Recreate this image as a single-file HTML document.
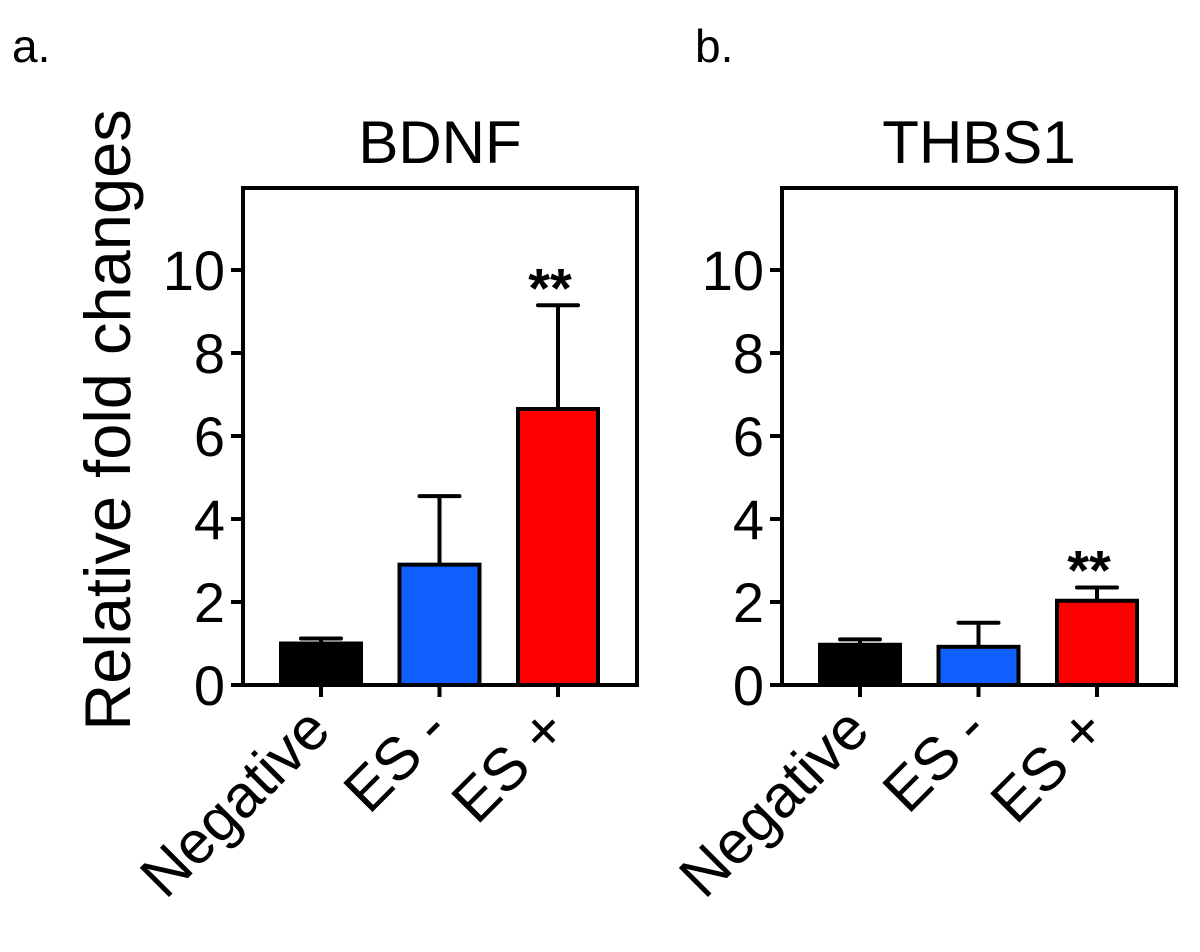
<!DOCTYPE html>
<html><head><meta charset="utf-8"><style>
body{margin:0;background:#fff}
svg text{font-family:"Liberation Sans",Arial,sans-serif;fill:#000}
</style></head><body>
<svg id="chart" width="1200" height="947" xmlns="http://www.w3.org/2000/svg">
<text x="12" y="62" font-size="46">a.</text>
<text x="695" y="62" font-size="46">b.</text>
<text transform="translate(130,420) rotate(-90)" text-anchor="middle" font-size="65">Relative fold changes</text>
<g id="pa"></g>
<g id="pb"></g>
</svg>
<script>
const categories=["Negative","ES -","ES +"];
const colors=["#000000","#0f5fff","#ff0000"];
const yTicks=[0,2,4,6,8,10];
const bdnfValues=[1.0,2.9,6.65];
const bdnfErrors=[1.12,4.55,9.15];
const thbsValues=[0.97,0.92,2.03];
const thbsErrors=[1.1,1.5,2.35];
const titles=["BDNF","THBS1"];
const sigA=[false,false,true];
const sigB=[false,false,true];
const NS="http://www.w3.org/2000/svg";
function mk(tag,attrs,parent){const e=document.createElementNS(NS,tag);for(const k in attrs)e.setAttribute(k,attrs[k]);parent.appendChild(e);return e;}
function panel(g,left,title,vals,errs,sig){
  const right=left+394, top=188, bottom=685;
  const y=v=>bottom-v*41.5;
  const x=i=>left+78+i*118.5;
  const t=mk('text',{x:(left+right)/2,y:163,'text-anchor':'middle','font-size':60},g);t.textContent=title;
  
  
  vals.forEach((v,i)=>{
    const cx=x(i);
    const eb=mk('g',{},g);
    
    
    mk('line',{x1:cx,x2:cx,y1:y(v),y2:y(errs[i]),stroke:'#000','stroke-width':4},eb);
    mk('line',{x1:cx-20,x2:cx+20,y1:y(errs[i]),y2:y(errs[i]),stroke:'#000','stroke-width':4,'stroke-linecap':'round'},eb);
    const r=mk('rect',{x:cx-40,y:y(v),width:80,height:bottom-y(v),fill:colors[i],stroke:'#000','stroke-width':4},g);
    
    
    if(sig[i]){
      const s=mk('text',{x:cx-8,y:y(errs[i])+2,'text-anchor':'middle','font-size':56,'font-weight':'bold'},g);s.textContent='**';
      
      
    }
    mk('line',{x1:cx,x2:cx,y1:bottom,y2:bottom+12,stroke:'#000','stroke-width':4},g);
    const lb=mk('text',{transform:`translate(${cx+12},${bottom+48}) rotate(-45)`,'text-anchor':'end','font-size':60},g);lb.textContent=categories[i];
    
    
  });
  mk('path',{d:`M${left} ${bottom}V${top}H${right}V${bottom}`,fill:'none',stroke:'#000','stroke-width':4},g);
  mk('line',{x1:left-12,x2:right+2,y1:bottom,y2:bottom,stroke:'#000','stroke-width':4},g);
  yTicks.forEach(v=>{
    mk('line',{x1:left-12,x2:left,y1:y(v),y2:y(v),stroke:'#000','stroke-width':4},g);
    const tl=mk('text',{x:left-18,y:y(v)+20,'text-anchor':'end','font-size':56},g);tl.textContent=v;
    
    
  });
}
panel(document.getElementById('pa'),243,titles[0],bdnfValues,bdnfErrors,sigA);
panel(document.getElementById('pb'),782,titles[1],thbsValues,thbsErrors,sigB);
</script>
</body></html>
